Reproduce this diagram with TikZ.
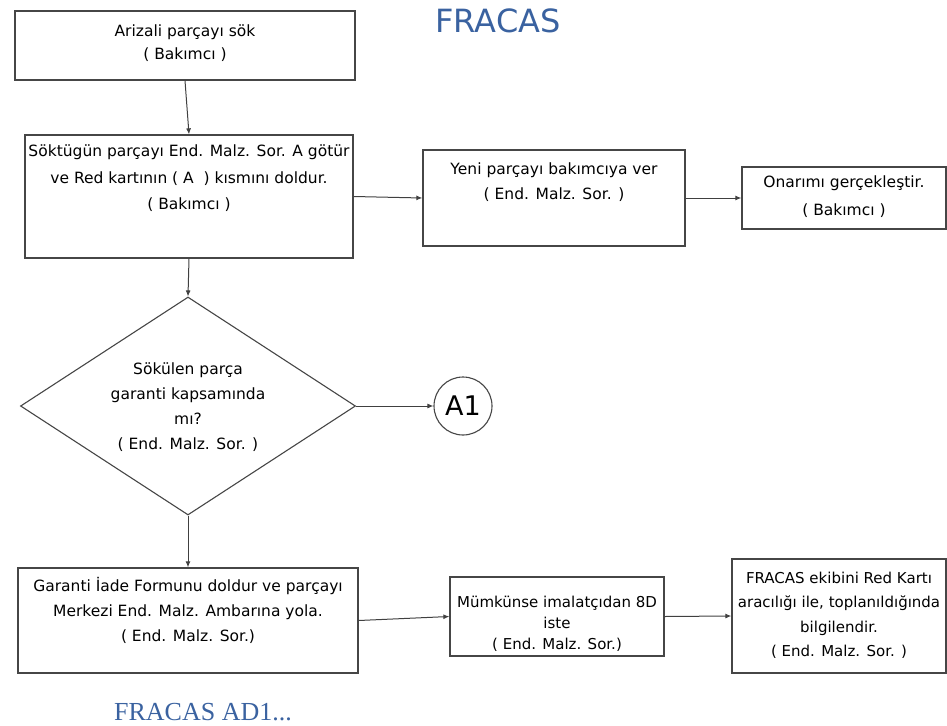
\documentclass[tikz,border=0pt]{standalone}
\usepackage{fontspec}
\setmainfont{DejaVu Sans}
\newfontfamily\titlefont{Liberation Serif}
\usetikzlibrary{arrows.meta,shapes.geometric}
\definecolor{titleblue}{RGB}{58,98,160}
\definecolor{edge}{RGB}{70,70,70}
\begin{document}
\begin{tikzpicture}[x=1pt,y=-1pt,
  box/.style={draw=edge,line width=1.3pt,rectangle,inner sep=0pt},
  dec/.style={draw=edge,line width=1.1pt,diamond,inner sep=0pt},
  conn/.style={draw=edge,line width=1.1pt,circle,inner sep=0pt,minimum size=58pt},
  txt/.style={align=center,inner sep=0pt,text=black,font=\fontsize{15.5}{25}\selectfont},
  flow/.style={draw=black!75,line width=1pt,-{Latex[length=6pt,width=5pt]}}]
\useasboundingbox (0,0) rectangle (947,725);

% titles
\node[text=titleblue,font=\fontsize{32}{36}\selectfont,anchor=base] (title) at (498,33) {FRACAS};
\node[text=titleblue,font=\titlefont\fontsize{26}{30}\selectfont,anchor=base] (subtitle) at (203,720) {FRACAS AD1...};

% process boxes
\node[box,minimum width=340pt,minimum height=69pt] (b1) at (185,45.5) {};
\node[box,minimum width=328pt,minimum height=123pt] (b2) at (189,196.5) {};
\node[box,minimum width=262pt,minimum height=96pt] (b3) at (554,198) {};
\node[box,minimum width=204pt,minimum height=62pt] (b4) at (844,198) {};
\node[dec,minimum width=335pt,minimum height=218pt] (d1) at (188,406) {};
\node[conn,font=\fontsize{27}{30}\selectfont] (a1) at (463,406) {A1};
\node[box,minimum width=340pt,minimum height=105pt] (b5) at (188,620.5) {};
\node[box,minimum width=214pt,minimum height=79pt] (b6) at (557,616.5) {};
\node[box,minimum width=214pt,minimum height=114pt] (b7) at (839,616) {};

% texts
\node[txt,anchor=north,font=\fontsize{15.5}{23}\selectfont] (t1) at (185,25) {Arizali parçayı sök\\( Bakımcı )};
\node[txt,anchor=north,font=\fontsize{15.5}{26.5}\selectfont] (t2) at (189,145) {Söktügün parçayı End. Malz. Sor. A götür\\ve Red kartının ( A~ ) kısmını doldur.\\( Bakımcı )};
\node[txt,anchor=north] (t3) at (554,163) {Yeni parçayı bakımcıya ver\\( End. Malz. Sor. )};
\node[txt,anchor=north,font=\fontsize{15.5}{28}\selectfont] (t4) at (844,176) {Onarımı gerçekleştir.\\( Bakımcı )};
\node[txt] (td) at (188,407) {Sökülen parça\\garanti kapsamında\\mı?\\( End. Malz. Sor. )};
\node[txt,anchor=north] (t5) at (188,577) {Garanti İade Formunu doldur ve parçayı\\Merkezi End. Malz. Ambarına yola.\\( End. Malz. Sor.)};
\node[txt,anchor=north,font=\fontsize{15}{21}\selectfont] (t6) at (557,596) {Mümkünse imalatçıdan 8D\\iste\\( End. Malz. Sor.)};
\node[txt,anchor=north,font=\fontsize{15}{24.3}\selectfont] (t7) at (839,572) {FRACAS ekibini Red Kartı\\aracılığı ile, toplanıldığında\\bilgilendir.\\( End. Malz. Sor. )};

% connectors
\draw[flow] (b1.south) -- (b2.north);
\draw[flow] (b2.east) -- (b3.west);
\draw[flow] (b3.east) -- (b4.west);
\draw[flow] (b2.south) -- (d1.north);
\draw[flow] (d1.east) -- (a1.west);
\draw[flow] (d1.south) -- (b5.north);
\draw[flow] (b5.east) -- (b6.west);
\draw[flow] (b6.east) -- (b7.west);
\end{tikzpicture}
\end{document}
